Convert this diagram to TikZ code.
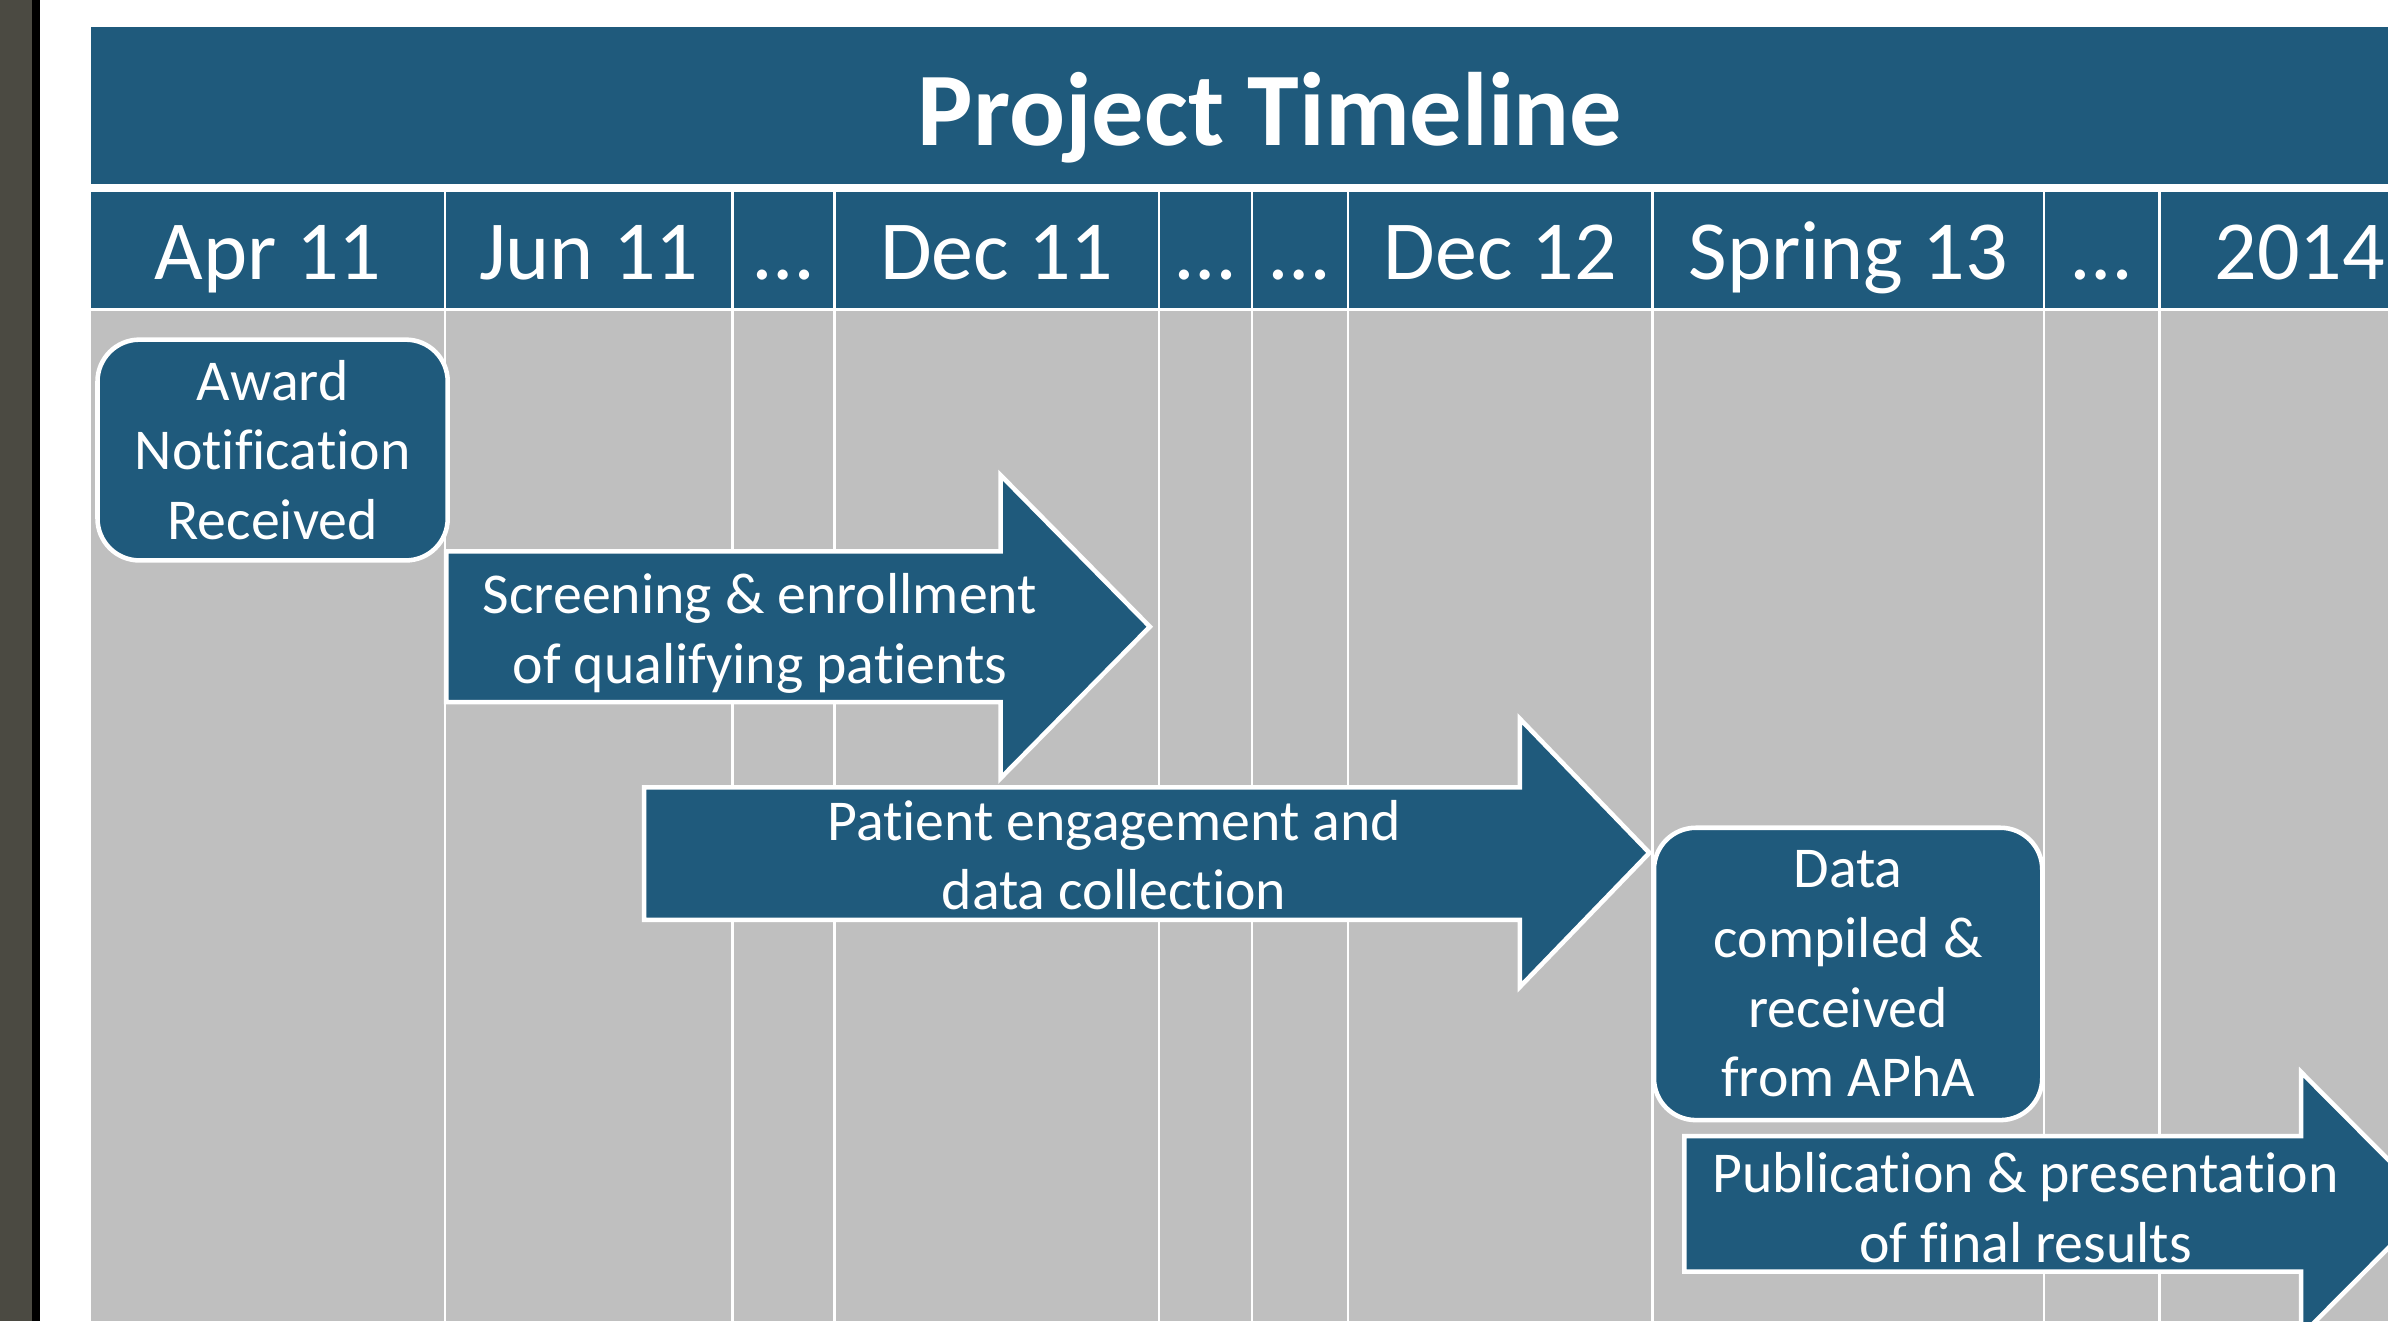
\documentclass[tikz,border=0pt]{standalone}
\usepackage{fontspec}
\setmainfont{Carlito}[Ligatures={NoCommon,NoRequired,NoContextual},RawFeature={-liga,-clig,-calt,-dlig}]
\usepackage{xcolor}
\usepackage{tikz}
\usetikzlibrary{positioning}

\definecolor{tlblue}{RGB}{31,90,124}
\definecolor{tlgray}{RGB}{191,191,191}
\definecolor{tlslate}{RGB}{75,74,66}

\tikzset{
  stage/.style={fill=tlblue,draw=white,line width=1.7pt,rounded corners=0.55cm,
    text=white,align=center,inner sep=0pt,font=\fontsize{21.6}{26}\selectfont},
  phase/.style={fill=tlblue,draw=white,line width=1.7pt,line join=miter},
  phasetext/.style={text=white,align=center,inner sep=0pt,font=\fontsize{21.6}{26}\selectfont},
  colline/.style={white,line width=0.85pt},
  month/.style={anchor=base,text=white,font=\fontsize{31.4}{36}\selectfont}
}

\begin{document}
\begin{tikzpicture}[x=0.02cm,y=-0.02cm]
            \useasboundingbox (0,0) rectangle (1568,867.4);
            \clip (0,0) rectangle (1568,867.4);
            \fill[white] (0,0) rectangle (1568,867.4);
            \fill[tlslate] (0,0) rectangle (21,867.4);
            \fill[black] (21,0) rectangle (26,867.4);

            \fill[tlblue] (60,18) rectangle (1620,121);
            \fill[tlblue] (60,126) rectangle (1620,202);
            \fill[tlgray] (60,204) rectangle (1620,867.4);
            \node[anchor=base,text=white,font=\fontsize{39}{44}\bfseries\selectfont]
                (title) at (834,95.5) {Project Timeline};

            \foreach \x in {292,481,548,761,822,885,1085,1342,1418}
                \draw[colline] (\x,121) -- (\x,867.4);
            \foreach \x/\lbl [count=\i] in {176/Apr 11,386.5/Jun 11,514.5/…,654.5/Dec 11,
                    791.5/…,853.5/…,985/Dec 12,1213.5/Spring 13,1380/…,1510/2014}
                \node[month] (m\i) at (\x,183.5) {\lbl};

            \node[stage,minimum width=4.6cm,minimum height=2.9cm]
                (award) at (179,295.5) {Award\\Notification\\Received};

            \draw[phase] (293,362) -- (657,362) -- (657,312) -- (755,411.5)
                -- (657,511) -- (657,461) -- (293,461) -- cycle;
            \node[phasetext] (screening) at (499,416)
                {Screening \& enrollment\\of qualifying patients};

            \draw[phase] (423,517) -- (998,517) -- (998,472) -- (1083,560)
                -- (998,648) -- (998,604) -- (423,604) -- cycle;
            \node[phasetext] (engagement) at (731.5,561.5)
                {Patient engagement and\\data collection};

            \node[stage,minimum width=5.1cm,minimum height=3.84cm]
                (compiled) at (1213.5,639.5) {Data\\compiled \&\\received\\from APhA};

            \draw[phase] (1106,746) -- (1511,746) -- (1511,704) -- (1597,790.5)
                -- (1511,877) -- (1511,835) -- (1106,835) -- cycle;
            \node[phasetext] (publication) at (1330,793)
                {Publication \& presentation\\of final results};
        \end{tikzpicture}
\end{document}
